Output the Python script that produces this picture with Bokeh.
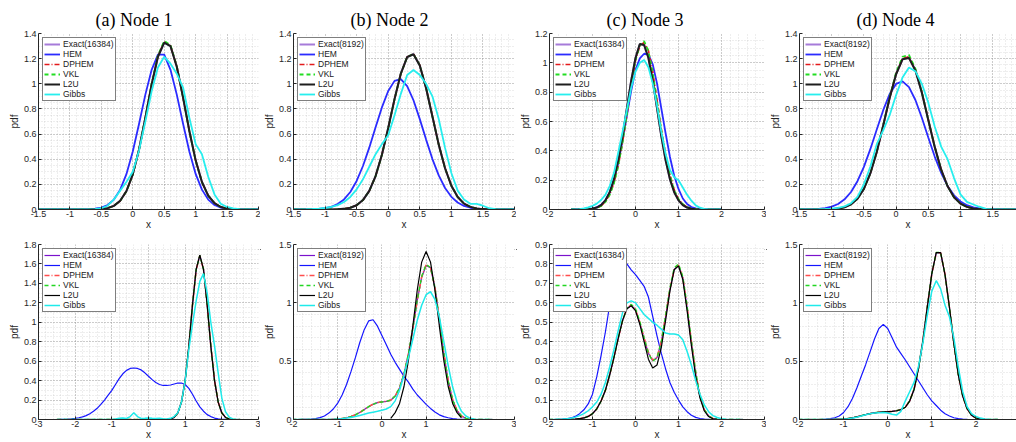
import numpy as np
from bokeh.plotting import figure
from bokeh.models import Range1d, FixedTicker, Div, CustomJSTickFormatter
from bokeh.layouts import row, column
from bokeh.embed import file_html
from bokeh.resources import INLINE

nan = float("nan")

# ---------------- data ----------------
TITLES = ["(a) Node 1", "(b) Node 2", "(c) Node 3", "(d) Node 4"]
EXACT_LABELS = ["Exact(16384)", "Exact(8192)", "Exact(16384)", "Exact(8192)"]
SERIES_NAMES = ["Exact", "HEM", "DPHEM", "VKL", "L2U", "Gibbs"]

# sample positions (x) shared by the curves of one row
top_x = np.round(np.arange(-1.5, 2.0001, 0.1), 1)   # 36 points
bot_x = np.round(np.arange(-2.5, 2.5001, 0.1), 1)   # 51 points

# tick values
top_xticks = [[-1.5, -1, -0.5, 0, 0.5, 1, 1.5, 2], [-1.5, -1, -0.5, 0, 0.5, 1, 1.5, 2],
              [-2, -1, 0, 1, 2, 3], [-1.5, -1, -0.5, 0, 0.5, 1, 1.5, 2]]
top_yticks = [[0, 0.2, 0.4, 0.6, 0.8, 1, 1.2, 1.4], [0, 0.2, 0.4, 0.6, 0.8, 1, 1.2, 1.4],
              [0, 0.2, 0.4, 0.6, 0.8, 1, 1.2], [0, 0.2, 0.4, 0.6, 0.8, 1, 1.2, 1.4]]
bot_xticks = [[-3, -2, -1, 0, 1, 2, 3], [-2, -1, 0, 1, 2, 3], [-2, -1, 0, 1, 2, 3], [-2, -1, 0, 1, 2, 3]]
bot_yticks = [[0, 0.2, 0.4, 0.6, 0.8, 1, 1.2, 1.4, 1.6, 1.8], [0, 0.5, 1, 1.5],
              [0, 0.1, 0.2, 0.3, 0.4, 0.5, 0.6, 0.7, 0.8, 0.9], [0, 0.5, 1, 1.5]]

# ---- top row, node 1 ----
ta_exact = [0, 0, 0, 0, 0,
            0.0005, 0.0003, 0.0002, 0.0004, 0.0012,
            0.004, 0.011, 0.030, 0.070, 0.148,
            0.280, 0.478, 0.730, 0.995, 1.214,
            1.327, 1.300, 1.137, 0.891, 0.625,
            0.392, 0.220, 0.111, 0.050, 0.020,
            0.007, 0.002, 0.0005, 0.0001, 0,
            0]
ta_hem = [0, 0, 0, 0, 0,
          0, 0.0002, 0.0006, 0.002, 0.006,
          0.015, 0.036, 0.079, 0.158, 0.283,
          0.461, 0.682, 0.914, 1.111, 1.232,
          1.232, 1.111, 0.914, 0.682, 0.461,
          0.283, 0.158, 0.079, 0.036, 0.015,
          0.006, 0.002, 0.0006, 0.0002, 0,
          0]
ta_dphem = [0, 0, 0, 0, 0,
            0, 0, 0, 0.0003, 0.001,
            0.004, 0.011, 0.029, 0.069, 0.147,
            0.279, 0.477, 0.730, 0.998, 1.220,
            1.334, 1.304, 1.139, 0.891, 0.624,
            0.391, 0.219, 0.110, 0.050, 0.020,
            0.007, 0.002, 0.0005, 0.0001, 0,
            0]
ta_vkl = [0, 0, 0, 0, 0,
          0, 0, 0, 0.0003, 0.001,
          0.004, 0.011, 0.029, 0.069, 0.146,
          0.278, 0.476, 0.731, 1.000, 1.225,
          1.342, 1.308, 1.141, 0.892, 0.624,
          0.390, 0.218, 0.110, 0.050, 0.020,
          0.007, 0.002, 0.0005, 0.0001, 0,
          0]
ta_l2u = [0, 0, 0, 0, 0,
          0, 0, 0, 0.0003, 0.001,
          0.004, 0.011, 0.029, 0.069, 0.147,
          0.280, 0.478, 0.729, 0.995, 1.215,
          1.328, 1.299, 1.136, 0.890, 0.624,
          0.391, 0.219, 0.110, 0.050, 0.020,
          0.007, 0.002, 0.0005, 0.0001, 0,
          0]
ta_gibbs = [0, 0, 0, 0, 0,
            0, 0, 0, 0, 0.003,
            0.010, 0.030, 0.080, 0.150, 0.220,
            0.300, 0.470, 0.700, 0.940, 1.130,
            1.215, 1.160, 1.080, 0.970, 0.730,
            0.520, 0.440, 0.260, 0.120, 0.045,
            0.020, 0.008, 0.002, 0, 0,
            0]

# ---- top row, node 2 ----
tb_exact = [0, 0, 0, 0, 0,
            0.0002, 0.0006, 0.002, 0.005, 0.014,
            0.034, 0.075, 0.148, 0.266, 0.436,
            0.649, 0.879, 1.082, 1.213, 1.236,
            1.146, 0.966, 0.741, 0.517, 0.329,
            0.190, 0.100, 0.047, 0.021, 0.008,
            0.003, 0.001, 0.0003, 0, 0,
            0]
tb_hem = [0, 0.0002, 0.0007, 0.002, 0.004,
          0.010, 0.021, 0.043, 0.080, 0.139,
          0.227, 0.346, 0.492, 0.654, 0.812,
          0.943, 1.023, 1.037, 0.982, 0.869,
          0.719, 0.556, 0.401, 0.271, 0.171,
          0.101, 0.056, 0.028, 0.014, 0.006,
          0.003, 0.001, 0.0004, 0, 0,
          0]
tb_dphem = [0, 0, 0, 0, 0,
            0.0002, 0.0006, 0.002, 0.005, 0.014,
            0.034, 0.075, 0.147, 0.265, 0.434,
            0.647, 0.877, 1.081, 1.214, 1.238,
            1.148, 0.967, 0.742, 0.517, 0.329,
            0.190, 0.100, 0.047, 0.021, 0.008,
            0.003, 0.001, 0.0003, 0, 0,
            0]
tb_vkl = [0, 0, 0, 0, 0,
          0.0002, 0.0006, 0.002, 0.005, 0.014,
          0.034, 0.075, 0.147, 0.265, 0.434,
          0.647, 0.877, 1.080, 1.213, 1.237,
          1.147, 0.966, 0.741, 0.517, 0.328,
          0.189, 0.099, 0.047, 0.021, 0.008,
          0.003, 0.001, 0.0003, 0, 0,
          0]
tb_l2u = [0, 0, 0, 0, 0,
          0.0002, 0.0006, 0.002, 0.005, 0.014,
          0.034, 0.075, 0.148, 0.266, 0.435,
          0.648, 0.878, 1.081, 1.212, 1.235,
          1.145, 0.965, 0.740, 0.516, 0.328,
          0.189, 0.099, 0.047, 0.021, 0.008,
          0.003, 0.001, 0.0003, 0, 0,
          0]
tb_gibbs = [0, 0.001, 0.002, 0.004, 0.007,
            0.012, 0.020, 0.035, 0.060, 0.100,
            0.160, 0.240, 0.340, 0.440, 0.520,
            0.590, 0.750, 0.920, 1.070, 1.110,
            1.070, 1.000, 0.900, 0.720, 0.490,
            0.290, 0.150, 0.080, 0.045, 0.045,
            0.030, 0.010, 0.003, 0, 0,
            0]

# ---- top row, node 3 ----
tc_exact = [0, 0.0001, 0.0002, 0.0007, 0.002,
            0.006, 0.013, 0.030, 0.062, 0.118,
            0.207, 0.335, 0.500, 0.690, 0.878,
            1.032, 1.126, 1.124, 1.036, 0.882,
            0.694, 0.503, 0.337, 0.208, 0.119,
            0.062, 0.030, 0.013, 0.006, 0.002,
            0.0007, 0.0002, 0, 0, 0,
            0]
tc_hem = [0, 0.0002, 0.0005, 0.001, 0.003,
          0.007, 0.015, 0.032, 0.063, 0.115,
          0.200, 0.320, 0.470, 0.640, 0.810,
          0.950, 1.030, 1.062, 1.058, 0.990,
          0.860, 0.690, 0.520, 0.360, 0.230,
          0.140, 0.075, 0.037, 0.017, 0.007,
          0.003, 0.001, 0, 0, 0,
          0]
tc_dphem = [0, 0, 0, 0.0005, 0.0015,
            0.004, 0.010, 0.024, 0.053, 0.102,
            0.182, 0.300, 0.458, 0.645, 0.840,
            1.015, 1.115, 1.140, 1.085, 0.940,
            0.750, 0.550, 0.380, 0.240, 0.135,
            0.072, 0.036, 0.017, 0.007, 0.003,
            0.001, 0, 0, 0, 0,
            0]
tc_vkl = [0, 0, 0, 0.0005, 0.0015,
          0.004, 0.010, 0.024, 0.052, 0.100,
          0.180, 0.300, 0.460, 0.650, 0.850,
          1.020, 1.120, 1.148, 1.080, 0.930,
          0.740, 0.540, 0.370, 0.230, 0.130,
          0.070, 0.035, 0.016, 0.007, 0.003,
          0.001, 0, 0, 0, 0,
          0]
tc_l2u = [0, 0.0001, 0.0002, 0.0007, 0.002,
          0.006, 0.013, 0.030, 0.062, 0.118,
          0.207, 0.335, 0.501, 0.691, 0.879,
          1.033, 1.128, 1.122, 1.033, 0.879,
          0.691, 0.501, 0.335, 0.207, 0.118,
          0.062, 0.030, 0.013, 0.006, 0.002,
          0.0007, 0.0002, 0, 0, 0,
          0]
tc_gibbs = [0, 0.001, 0.003, 0.007, 0.014,
            0.025, 0.040, 0.065, 0.100, 0.160,
            0.250, 0.390, 0.530, 0.680, 0.830,
            0.940, 1.000, 1.020, 0.970, 0.860,
            0.710, 0.530, 0.380, 0.270, 0.220,
            0.200, 0.150, 0.100, 0.060, 0.028,
            0.012, 0.004, 0.001, 0.0005, 0.0002,
            0]

# ---- top row, node 4 ----
td_exact = [0, 0, 0.0001, 0.0003, 0.0008,
            0.0025, 0.007, 0.018, 0.041, 0.086,
            0.164, 0.287, 0.458, 0.668, 0.887,
            1.078, 1.195, 1.210, 1.110, 0.930,
            0.712, 0.498, 0.317, 0.185, 0.098,
            0.047, 0.021, 0.0085, 0.003, 0.001,
            0.0003, 0, 0, 0, 0,
            0]
td_hem = [0.0003, 0.0008, 0.002, 0.005, 0.011,
          0.023, 0.044, 0.081, 0.139, 0.225,
          0.339, 0.480, 0.636, 0.790, 0.918,
          0.999, 1.019, 0.973, 0.871, 0.730,
          0.573, 0.421, 0.291, 0.187, 0.113,
          0.064, 0.034, 0.017, 0.008, 0.003,
          0.0014, 0.0005, 0, 0, 0,
          0]
td_dphem = [0, 0, 0.0001, 0.0003, 0.0008,
            0.0025, 0.007, 0.018, 0.041, 0.086,
            0.164, 0.287, 0.458, 0.668, 0.887,
            1.080, 1.200, 1.215, 1.115, 0.935,
            0.716, 0.500, 0.318, 0.186, 0.098,
            0.047, 0.021, 0.0085, 0.003, 0.001,
            0.0003, 0, 0, 0, 0,
            0]
td_vkl = [0, 0, 0.0001, 0.0003, 0.0008,
          0.0025, 0.007, 0.018, 0.041, 0.086,
          0.164, 0.287, 0.460, 0.672, 0.893,
          1.090, 1.215, 1.230, 1.120, 0.935,
          0.714, 0.498, 0.316, 0.184, 0.097,
          0.047, 0.021, 0.0085, 0.003, 0.001,
          0.0003, 0, 0, 0, 0,
          0]
td_l2u = [0, 0, 0.0001, 0.0003, 0.0008,
          0.0025, 0.007, 0.018, 0.041, 0.086,
          0.164, 0.287, 0.458, 0.668, 0.887,
          1.076, 1.195, 1.205, 1.106, 0.929,
          0.712, 0.498, 0.317, 0.185, 0.098,
          0.047, 0.021, 0.0085, 0.003, 0.001,
          0.0003, 0, 0, 0, 0,
          0]
td_gibbs = [0, 0, 0.001, 0.002, 0.004,
            0.007, 0.013, 0.025, 0.050, 0.100,
            0.200, 0.340, 0.520, 0.630, 0.750,
            0.910, 1.050, 1.130, 1.100, 1.000,
            0.850, 0.660, 0.500, 0.400, 0.250,
            0.120, 0.060, 0.040, 0.020, 0.005,
            0.001, 0, 0, 0, 0,
            0]

# ---- bottom row, node 1 ----
ba_exact = [0, 0, 0, 0, 0,
            0, 0, 0, 0, 0,
            0, 0, 0, 0, 0,
            0, 0, 0, 0, 0,
            0, 0, 0, 0, 0,
            0, 0, 0, 0, 0.0002,
            0.001, 0.005, 0.021, 0.067, 0.180,
            0.403, 0.755, 1.180, 1.543, 1.688,
            1.545, 1.182, 0.755, 0.403, 0.180,
            0.067, 0.021, 0.005, 0.001, 0,
            0]
ba_hem = [0, 0.001, 0.002, 0.004, 0.007,
          0.012, 0.018, 0.027, 0.040, 0.060,
          0.085, 0.115, 0.155, 0.200, 0.250,
          0.300, 0.360, 0.420, 0.470, 0.505,
          0.525, 0.530, 0.525, 0.510, 0.480,
          0.445, 0.410, 0.380, 0.360, 0.350,
          0.350, 0.355, 0.365, 0.375, 0.375,
          0.360, 0.320, 0.260, 0.190, 0.130,
          0.085, 0.050, 0.030, 0.015, 0.007,
          0.003, 0.001, 0, 0, 0,
          0]
ba_dphem = [0, 0, 0, 0, 0,
            0, 0, 0, 0, 0,
            0, 0, 0, 0, 0,
            0, 0, 0, 0, 0,
            0, 0, 0, 0, 0,
            0, 0, 0, 0, 0.0002,
            0.001, 0.005, 0.021, 0.068, 0.181,
            0.404, 0.756, 1.179, 1.541, 1.685,
            1.544, 1.183, 0.757, 0.404, 0.181,
            0.068, 0.021, 0.005, 0.001, 0,
            0]
ba_vkl = [0, 0, 0, 0, 0,
          0, 0, 0, 0, 0,
          0, 0, 0, 0, 0,
          0, 0, 0, 0, 0,
          0, 0, 0, 0, 0,
          0, 0, 0, 0, 0.0002,
          0.001, 0.005, 0.021, 0.068, 0.180,
          0.403, 0.755, 1.180, 1.543, 1.687,
          1.545, 1.182, 0.756, 0.403, 0.180,
          0.067, 0.021, 0.005, 0.001, 0,
          0]
ba_l2u = [0, 0, 0, 0, 0,
          0, 0, 0, 0, 0,
          0, 0, 0, 0, 0,
          0, 0, 0, 0, 0,
          0, 0, 0, 0, 0,
          0, 0, 0, 0, 0.0002,
          0.001, 0.005, 0.021, 0.067, 0.179,
          0.402, 0.754, 1.180, 1.545, 1.690,
          1.545, 1.180, 0.754, 0.402, 0.179,
          0.067, 0.021, 0.005, 0.001, 0,
          0]
ba_gibbs = [0, 0, 0, 0, 0,
            0, 0, 0, 0, 0,
            0, 0, 0, 0, 0.001,
            0.002, 0.005, 0.012, 0.015, 0.010,
            0.030, 0.070, 0.030, 0.010, 0.012,
            0.015, 0.012, 0.010, 0.012, 0.008,
            0.006, 0.012, 0.030, 0.070, 0.180,
            0.400, 0.720, 0.980, 1.220, 1.420,
            1.500, 1.300, 1.000, 0.760, 0.480,
            0.220, 0.080, 0.025, 0.005, 0.001,
            0]

# ---- bottom row, node 2 ----
bb_exact = [0, 0, 0, 0, 0,
            0, 0, 0, 0, 0,
            0, 0, 0, 0, 0.002,
            0.004, 0.008, 0.015, 0.025, 0.040,
            0.060, 0.085, 0.110, 0.130, 0.145,
            0.150, 0.155, 0.165, 0.200, 0.270,
            0.390, 0.560, 0.780, 1.020, 1.220,
            1.320, 1.300, 1.130, 0.860, 0.570,
            0.330, 0.170, 0.075, 0.030, 0.010,
            0.003, 0, 0, 0, 0,
            0]
bb_hem = [0, 0, 0, 0, 0,
          0, 0, 0.001, 0.002, 0.004,
          0.008, 0.016, 0.030, 0.055, 0.090,
          0.140, 0.210, 0.300, 0.410, 0.530,
          0.660, 0.770, 0.845, 0.855, 0.800,
          0.720, 0.640, 0.560, 0.490, 0.430,
          0.370, 0.320, 0.260, 0.210, 0.170,
          0.130, 0.095, 0.065, 0.040, 0.025,
          0.015, 0.008, 0.004, 0.002, 0.001,
          0, 0, 0, 0, 0,
          0]
bb_dphem = [0, 0, 0, 0, 0,
            0, 0, 0, 0, 0,
            0, 0, 0, 0, 0.002,
            0.004, 0.008, 0.015, 0.025, 0.040,
            0.060, 0.085, 0.110, 0.131, 0.146,
            0.151, 0.156, 0.166, 0.201, 0.272,
            0.392, 0.562, 0.782, 1.022, 1.222,
            1.325, 1.302, 1.132, 0.862, 0.572,
            0.331, 0.171, 0.076, 0.030, 0.010,
            0.003, 0, 0, 0, 0,
            0]
bb_vkl = [0, 0, 0, 0, 0,
          0, 0, 0, 0, 0,
          0, 0, 0, 0, 0.002,
          0.004, 0.008, 0.015, 0.025, 0.040,
          0.060, 0.085, 0.110, 0.130, 0.145,
          0.150, 0.155, 0.166, 0.202, 0.273,
          0.393, 0.563, 0.783, 1.024, 1.225,
          1.328, 1.303, 1.131, 0.861, 0.571,
          0.330, 0.170, 0.075, 0.030, 0.010,
          0.003, 0, 0, 0, 0,
          0]
bb_l2u = [nan, nan, nan, nan, nan,
          nan, nan, nan, nan, nan,
          nan, nan, nan, nan, nan,
          nan, nan, nan, nan, nan,
          nan, nan, nan, nan, nan,
          nan, nan, 0.010, 0.059, 0.138,
          0.283, 0.508, 0.801, 1.110, 1.349,
          1.440, 1.349, 1.110, 0.801, 0.508,
          0.283, 0.138, 0.059, 0.015, nan,
          nan, nan, nan, nan, nan,
          nan]
bb_gibbs = [0, 0, 0, 0, 0,
            0, 0, 0, 0, 0,
            0, 0, 0, 0.001, 0.002,
            0.004, 0.007, 0.012, 0.018, 0.025,
            0.035, 0.045, 0.055, 0.063, 0.070,
            0.080, 0.090, 0.110, 0.160, 0.250,
            0.380, 0.530, 0.690, 0.850, 0.980,
            1.070, 1.095, 1.030, 0.880, 0.670,
            0.460, 0.280, 0.150, 0.070, 0.030,
            0.010, 0.003, 0, 0, 0,
            0]

# ---- bottom row, node 3 ----
bc_exact = [0, 0, 0, 0, 0,
            0, 0, 0, 0, 0,
            0.001, 0.002, 0.004, 0.008, 0.016,
            0.030, 0.055, 0.095, 0.150, 0.230,
            0.320, 0.420, 0.510, 0.570, 0.588,
            0.563, 0.497, 0.415, 0.340, 0.303,
            0.318, 0.398, 0.528, 0.668, 0.772,
            0.793, 0.728, 0.575, 0.395, 0.235,
            0.118, 0.049, 0.017, 0.005, 0.001,
            0, 0, 0, 0, 0,
            0]
bc_hem = [0, 0, 0, 0, 0,
          0, 0, 0.001, 0.002, 0.004,
          0.008, 0.016, 0.030, 0.050, 0.080,
          0.130, 0.220, 0.330, 0.450, 0.590,
          0.720, 0.810, 0.830, 0.800, 0.770,
          0.745, 0.715, 0.685, 0.630, 0.530,
          0.430, 0.340, 0.260, 0.190, 0.140,
          0.100, 0.065, 0.040, 0.022, 0.011,
          0.005, 0.002, 0.001, 0, 0,
          0, 0, 0, 0, 0,
          0]
bc_dphem = [0, 0, 0, 0, 0,
            0, 0, 0, 0, 0,
            0.001, 0.002, 0.004, 0.008, 0.016,
            0.030, 0.055, 0.095, 0.150, 0.230,
            0.320, 0.420, 0.510, 0.570, 0.590,
            0.565, 0.500, 0.420, 0.345, 0.305,
            0.320, 0.400, 0.530, 0.670, 0.770,
            0.795, 0.730, 0.580, 0.400, 0.240,
            0.120, 0.050, 0.018, 0.005, 0.001,
            0, 0, 0, 0, 0,
            0]
bc_vkl = [0, 0, 0, 0, 0,
          0, 0, 0, 0, 0,
          0.001, 0.002, 0.004, 0.008, 0.016,
          0.030, 0.055, 0.095, 0.150, 0.230,
          0.320, 0.420, 0.510, 0.572, 0.592,
          0.570, 0.505, 0.420, 0.340, 0.300,
          0.315, 0.400, 0.535, 0.675, 0.780,
          0.800, 0.735, 0.585, 0.405, 0.245,
          0.122, 0.051, 0.018, 0.005, 0.001,
          0, 0, 0, 0, 0,
          0]
bc_l2u = [0, 0, 0, 0, 0,
          0, 0, 0, 0, 0,
          0.001, 0.002, 0.004, 0.008, 0.016,
          0.030, 0.055, 0.095, 0.150, 0.230,
          0.320, 0.420, 0.510, 0.570, 0.585,
          0.560, 0.490, 0.400, 0.310, 0.265,
          0.280, 0.370, 0.510, 0.660, 0.770,
          0.790, 0.720, 0.560, 0.380, 0.220,
          0.110, 0.045, 0.015, 0.004, 0.001,
          0, 0, 0, 0, 0,
          0]
bc_gibbs = [0, 0, 0, 0, 0,
            0, 0, 0.001, 0.002, 0.004,
            0.007, 0.012, 0.020, 0.030, 0.045,
            0.065, 0.090, 0.130, 0.190, 0.270,
            0.360, 0.460, 0.550, 0.600, 0.610,
            0.600, 0.570, 0.540, 0.520, 0.500,
            0.485, 0.465, 0.445, 0.440, 0.440,
            0.435, 0.410, 0.350, 0.280, 0.200,
            0.130, 0.075, 0.040, 0.020, 0.010,
            0.004, 0.001, 0, 0, 0,
            0]

# ---- bottom row, node 4 ----
bd_exact = [0, 0, 0, 0, 0,
            0, 0, 0, 0, 0,
            0, 0, 0, 0.001, 0.002,
            0.004, 0.008, 0.014, 0.022, 0.032,
            0.042, 0.050, 0.057, 0.062, 0.065,
            0.067, 0.070, 0.075, 0.085, 0.105,
            0.160, 0.262, 0.442, 0.682, 0.972,
            1.250, 1.428, 1.428, 1.240, 0.960,
            0.650, 0.385, 0.200, 0.092, 0.037,
            0.013, 0.004, 0.001, 0, 0,
            0]
bd_hem = [0, 0, 0, 0, 0,
          0, 0, 0, 0, 0,
          0.001, 0.003, 0.007, 0.015, 0.030,
          0.060, 0.110, 0.180, 0.270, 0.370,
          0.470, 0.580, 0.690, 0.780, 0.815,
          0.780, 0.700, 0.620, 0.565, 0.510,
          0.450, 0.390, 0.330, 0.270, 0.210,
          0.160, 0.120, 0.080, 0.050, 0.030,
          0.015, 0.007, 0.003, 0.001, 0,
          0, 0, 0, 0, 0,
          0]
bd_dphem = [0, 0, 0, 0, 0,
            0, 0, 0, 0, 0,
            0, 0, 0, 0.001, 0.002,
            0.004, 0.008, 0.014, 0.022, 0.032,
            0.042, 0.050, 0.057, 0.062, 0.065,
            0.067, 0.070, 0.075, 0.085, 0.106,
            0.161, 0.263, 0.443, 0.683, 0.972,
            1.248, 1.426, 1.428, 1.242, 0.962,
            0.652, 0.386, 0.201, 0.093, 0.037,
            0.013, 0.004, 0.001, 0, 0,
            0]
bd_vkl = [0, 0, 0, 0, 0,
          0, 0, 0, 0, 0,
          0, 0, 0, 0.001, 0.002,
          0.004, 0.008, 0.014, 0.022, 0.032,
          0.042, 0.050, 0.057, 0.062, 0.065,
          0.067, 0.070, 0.075, 0.085, 0.105,
          0.160, 0.261, 0.441, 0.681, 0.971,
          1.251, 1.431, 1.431, 1.241, 0.961,
          0.651, 0.385, 0.200, 0.092, 0.037,
          0.013, 0.004, 0.001, 0, 0,
          0]
bd_l2u = [0, 0, 0, 0, 0,
          0, 0, 0, 0, 0,
          0, 0, 0, 0.001, 0.002,
          0.004, 0.008, 0.014, 0.022, 0.032,
          0.042, 0.050, 0.057, 0.062, 0.065,
          0.067, 0.070, 0.075, 0.085, 0.105,
          0.160, 0.260, 0.440, 0.680, 0.970,
          1.250, 1.430, 1.430, 1.240, 0.960,
          0.650, 0.385, 0.200, 0.092, 0.037,
          0.013, 0.004, 0.001, 0, 0,
          0]
bd_gibbs = [0, 0, 0, 0, 0,
            0, 0, 0, 0, 0,
            0, 0, 0, 0.001, 0.002,
            0.004, 0.007, 0.012, 0.020, 0.030,
            0.040, 0.050, 0.055, 0.058, 0.060,
            0.055, 0.045, 0.038, 0.070, 0.160,
            0.240, 0.320, 0.460, 0.660, 0.900,
            1.100, 1.190, 1.120, 0.980, 0.880,
            0.700, 0.450, 0.240, 0.110, 0.050,
            0.025, 0.012, 0.005, 0.002, 0,
            0]

TOP_SERIES = [
    [ta_exact, ta_hem, ta_dphem, ta_vkl, ta_l2u, ta_gibbs],
    [tb_exact, tb_hem, tb_dphem, tb_vkl, tb_l2u, tb_gibbs],
    [tc_exact, tc_hem, tc_dphem, tc_vkl, tc_l2u, tc_gibbs],
    [td_exact, td_hem, td_dphem, td_vkl, td_l2u, td_gibbs],
]
BOT_SERIES = [
    [ba_exact, ba_hem, ba_dphem, ba_vkl, ba_l2u, ba_gibbs],
    [bb_exact, bb_hem, bb_dphem, bb_vkl, bb_l2u, bb_gibbs],
    [bc_exact, bc_hem, bc_dphem, bc_vkl, bc_l2u, bc_gibbs],
    [bd_exact, bd_hem, bd_dphem, bd_vkl, bd_l2u, bd_gibbs],
]

# ---------------- layout / style ----------------
TOP_XR = [(-1.5, 2.0), (-1.5, 2.0), (-2.0, 3.0), (-1.5, 1.87)]
TOP_YR = [(0, 1.4), (0, 1.4), (0, 1.2), (0, 1.4)]
BOT_XR = [(-3.0, 3.0), (-2.0, 3.0), (-2.0, 3.0), (-2.0, 2.92)]
BOT_YR = [(0, 1.8), (0, 1.5), (0, 0.9), (0, 1.5)]
TOP_XMINOR = [0.1, 0.1, 0.2, 0.1]
TOP_YMINOR = [0.05, 0.05, 0.05, 0.05]
BOT_XMINOR = [0.2, 0.2, 0.2, 0.2]
BOT_YMINOR = [0.05, 0.1, 0.02, 0.1]

COLS = [(260, 38, 2), (256, 31, 2), (250, 29, 2), (250, 32, 0)]

TOP_STYLE = {
    "Exact": ("#a67bd9", 2.0, "solid"),
    "HEM": ("#2b2bff", 1.8, "solid"),
    "DPHEM": ("#e31a1c", 1.6, "5 2 1 2"),
    "VKL": ("#22dd22", 1.8, "4 3"),
    "L2U": ("#1e1e1e", 2.0, "solid"),
    "Gibbs": ("#27eeee", 1.8, "solid"),
}
BOT_STYLE = {
    "Exact": ("#7a12cc", 1.2, "solid"),
    "HEM": ("#1515ff", 1.2, "solid"),
    "DPHEM": ("#ff4d4d", 1.6, "5 2 1 2"),
    "VKL": ("#22d622", 1.4, "4 3"),
    "L2U": ("#000000", 1.2, "solid"),
    "Gibbs": ("#1eeaea", 1.5, "solid"),
}

FONT = "Liberation Sans"
AXC = "#262626"


def minor_ticks(lo, hi, step):
    return [float(v) for v in np.round(np.arange(lo, hi + step / 2, step), 4)]


def make_panel(i, top):
    w, bl, br = COLS[i]
    if top:
        h, bt, bb = 238, 33, 29
        x, ys = top_x, TOP_SERIES[i]
        xr, yr = TOP_XR[i], TOP_YR[i]
        xt, yt = top_xticks[i], top_yticks[i]
        xm, ym = TOP_XMINOR[i], TOP_YMINOR[i]
        style = TOP_STYLE
        title = TITLES[i]
    else:
        h, bt, bb = 203, 5, 22
        x, ys = bot_x, BOT_SERIES[i]
        xr, yr = BOT_XR[i], BOT_YR[i]
        xt, yt = bot_xticks[i], bot_yticks[i]
        xm, ym = BOT_XMINOR[i], BOT_YMINOR[i]
        style = BOT_STYLE
        title = None
    p = figure(width=w, height=h, x_range=Range1d(*xr), y_range=Range1d(*yr),
               output_backend="svg", toolbar_location=None, title=title,
               min_border_left=bl, min_border_right=br,
               min_border_top=bt, min_border_bottom=bb)
    p.outline_line_color = None
    p.background_fill_color = "white"
    p.border_fill_color = "white"
    if top:
        p.title.text_font = "Liberation Serif"
        p.title.text_font_size = "18px"
        p.title.text_font_style = "normal"
        p.title.text_color = "black"
        p.title.align = "left"
        p.title.offset = 57
        p.title.standoff = 8

    fmt = CustomJSTickFormatter(code="return String(Math.round(tick*100)/100);")
    for ax, g, ticks, ms, lab in ((p.xaxis[0], p.xgrid[0], xt, xm, "x"),
                                  (p.yaxis[0], p.ygrid[0], yt, ym, "pdf")):
        lo = min(ticks) - 1
        hi = max(ticks) + 1
        tk = FixedTicker(ticks=ticks, minor_ticks=minor_ticks(lo, hi, ms))
        ax.ticker = tk
        g.ticker = tk
        ax.formatter = fmt
        ax.axis_label = lab
        ax.axis_line_color = AXC
        ax.axis_line_width = 1
        ax.major_tick_in = 3
        ax.major_tick_out = 0
        ax.major_tick_line_color = AXC
        ax.minor_tick_in = 0
        ax.minor_tick_out = 0
        ax.major_label_text_font = FONT
        ax.major_label_text_font_size = "9px"
        ax.major_label_text_color = AXC
        ax.major_label_standoff = 2
        ax.axis_label_text_font = FONT
        ax.axis_label_text_font_size = "10px"
        ax.axis_label_text_font_style = "normal"
        ax.axis_label_text_color = AXC
        ax.axis_label_standoff = 1

        g.grid_line_color = "#8c8c8c"
        g.grid_line_alpha = 0.7
        g.grid_line_dash = "1 2"
        g.grid_line_width = 1
        g.minor_grid_line_color = "#9a9a9a"
        g.minor_grid_line_alpha = 0.35
        g.minor_grid_line_dash = "1 2"
        g.minor_grid_line_width = 1
    p.xaxis[0].major_label_standoff = 1
    p.xaxis[0].axis_label_standoff = -1

    for name, yv in zip(SERIES_NAMES, ys):
        assert len(yv) == len(x), (i, top, name, len(yv))
        col, lw, dash = style[name]
        label = EXACT_LABELS[i] if name == "Exact" else name
        p.line(np.asarray(x, float), np.asarray(yv, float), line_color=col,
               line_width=lw, line_dash=dash, legend_label=label)

    lg = p.legend[0]
    lg.location = "top_left"
    lg.margin = 4
    lg.padding = 1
    lg.spacing = 0
    lg.label_text_font = FONT
    lg.label_text_font_size = "8.5px"
    lg.label_text_color = "#1a1a1a"
    lg.label_height = 8
    lg.glyph_height = 8
    lg.glyph_width = 16
    lg.label_standoff = 3
    lg.border_line_color = "black"
    lg.border_line_width = 1
    lg.background_fill_color = "white"
    lg.background_fill_alpha = 1.0
    return p


top_figs = [make_panel(i, True) for i in range(4)]
bot_figs = [make_panel(i, False) for i in range(4)]

sep = Div(text='<div style="margin-left:8px;width:1008px;height:1px;background:#333;"></div>',
          width=1016, height=1, margin=(0, 0, 0, 0))

layout = column(row(*top_figs), sep, row(*bot_figs))

open("out.html", "w").write(file_html(layout, INLINE))
